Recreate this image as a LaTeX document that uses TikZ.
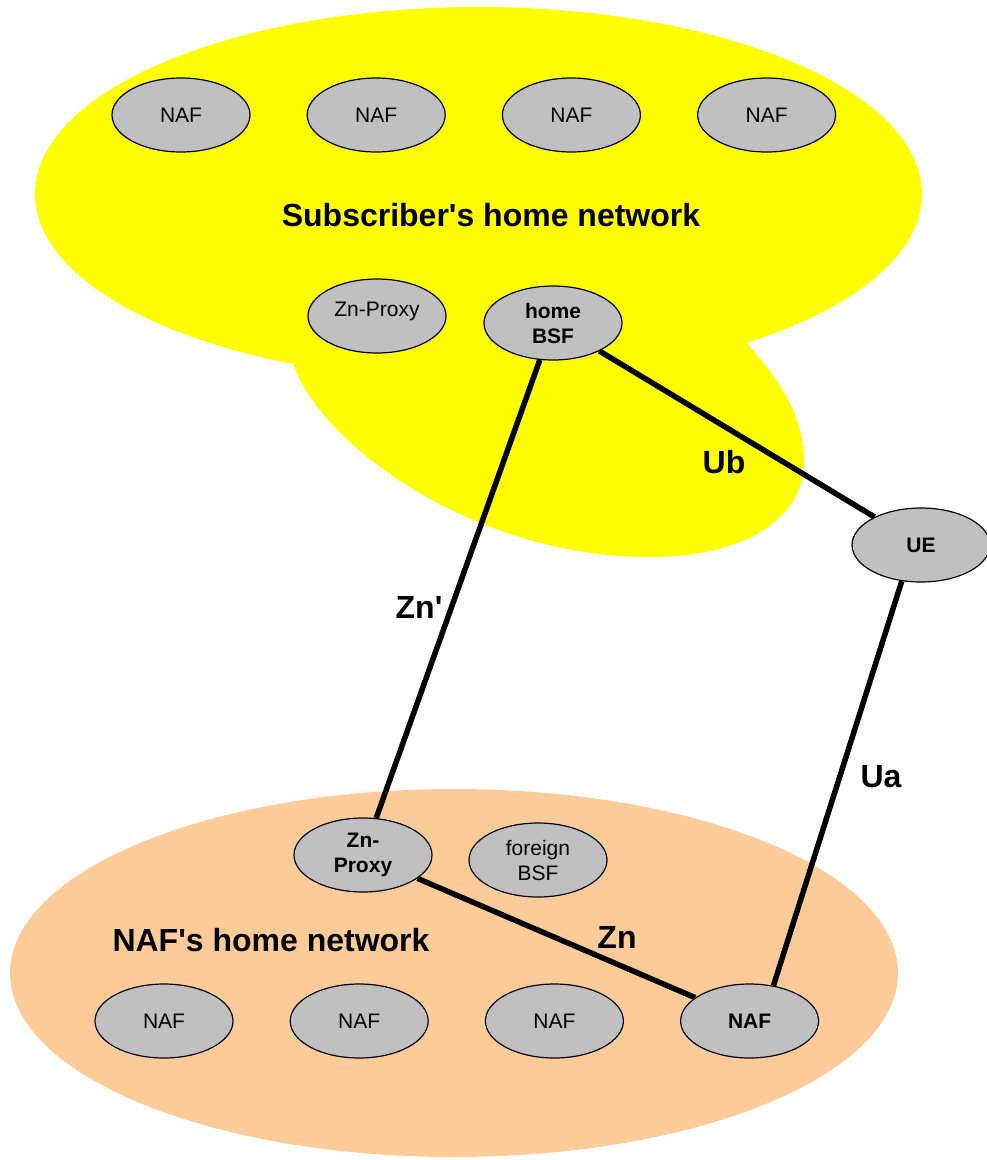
\documentclass[tikz,border=0pt]{standalone}
\usepackage{fontspec}
\setmainfont{Liberation Sans}
\usetikzlibrary{positioning,shapes.geometric}
\definecolor{homeyellow}{RGB}{255,255,0}
\definecolor{nafpeach}{RGB}{255,204,153}
\definecolor{nodegrey}{RGB}{192,192,192}
\begin{document}
\begin{tikzpicture}[x=1pt, y=-1pt, node distance=0pt and 56pt,
    elem/.style={ellipse, draw, line width=1.2pt, fill=nodegrey, minimum width=138pt, minimum height=74pt, inner sep=0pt, align=center, font=\fontsize{21}{25}\selectfont},
    bold elem/.style={elem, font=\fontsize{21}{25}\selectfont\bfseries},
    iface/.style={font=\fontsize{32}{36}\selectfont\bfseries},
    link/.style={line width=5.5pt}]
    \useasboundingbox (0,0) rectangle (986,1160);
    % the two networks
    \fill[homeyellow] (478.5,194) ellipse [x radius=443.5pt, y radius=187pt];
    \fill[homeyellow] (292,360) .. controls (315,440) and (470,557) .. (650,557)
       .. controls (750,557) and (805,515) .. (804,460)
       .. controls (803,410) and (775,375) .. (744,340) -- cycle;
    \fill[nafpeach] (454,973) ellipse [x radius=444pt, y radius=184pt];
    \node (subnet) [iface] at (491,215) {Subscriber\textquotesingle s home network};
    \node (nafnet) [iface] at (271,940) {NAF\textquotesingle s home network};
	% subscriber's side
	\node (naf1) [elem] at (181,115) {NAF};
	\node (naf2) [elem, right=of naf1] {NAF};
	\node (naf3) [elem, right=of naf2] {NAF};
	\node (naf4) [elem, right=of naf3] {NAF};
	\node (proxy) [elem] at (377,316) {\smash{Zn-Proxy}};
	\node (hbsf) [bold elem] at (553,323) {home\\BSF};
	\node (ue) [bold elem] at (921,545) {UE};
	% NAF's side
	\node (zproxy) [bold elem] at (363,855) {Zn-\\Proxy};
	\node (fbsf) [elem] at (538,860) {foreign\\BSF};
	\node (fnaf1) [elem] at (164,1021) {NAF};
	\node (fnaf2) [elem, right=of fnaf1] {NAF};
	\node (fnaf3) [elem, right=of fnaf2] {NAF};
	\node (fnaf4) [bold elem, right=of fnaf3] {NAF};
    \path [link] (hbsf) edge (ue)
       (hbsf) edge (zproxy)
       (zproxy) edge (fnaf4)
       (ue.242) edge (fnaf4.56);
    \node (ub) [iface] at (724,462) {Ub};
    \node (znp) [iface] at (419,607) {Zn\textquotesingle};
    \node (ua) [iface] at (881,777) {Ua};
    \node (zn) [iface] at (617,937) {Zn};
   \end{tikzpicture}
\end{document}
